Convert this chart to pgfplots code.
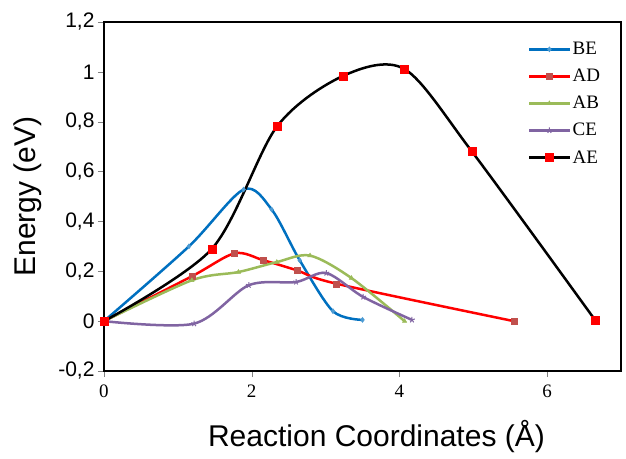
\documentclass[border=0pt]{standalone}
\usepackage{fontspec}
\setmainfont{Liberation Serif}
\newfontfamily\arial{Liberation Sans}
\usepackage{pgfplots}
\pgfplotsset{compat=1.18}
\definecolor{cBE}{HTML}{0070C0}
\definecolor{cAD}{HTML}{FF0000}
\definecolor{mAD}{HTML}{C0504D}
\definecolor{cAB}{HTML}{9BBB59}
\definecolor{cCE}{HTML}{8064A2}
\begin{document}
\begin{tikzpicture}
\begin{axis}[
  scale only axis, clip=false,
  width=517pt, height=349pt,
  xmin=0, xmax=7, ymin=-0.2, ymax=1.2,
  xtick={0,2,4,6}, ytick={-0.2,0,0.2,0.4,0.6,0.8,1,1.2},
  axis line style={line width=2.5pt, black},
  tick align=outside, xtick pos=bottom, ytick pos=left,
  major tick length=6pt,
  /pgf/number format/assume math mode=true,
  /pgf/number format/use comma,
  /pgf/number format/fixed,
  xticklabel style={font=\fontsize{19}{19}\selectfont, yshift=-4pt},
  yticklabel style={font=\arial\fontsize{21}{21}\selectfont},
  xlabel={Reaction Coordinates (Å)},
  ylabel={Energy (eV)},
  xlabel style={font=\arial\fontsize{30}{30}\selectfont, xshift=14pt, yshift=-16pt},
  ylabel style={font=\arial\fontsize{30}{30}\selectfont, yshift=10pt},
  legend style={draw=none, fill=none, at={(0.82,0.948)}, anchor=north west,
    font=\fontsize{19}{19}\selectfont, row sep=9pt, inner sep=0pt,
    nodes={inner xsep=2pt}},
  legend cell align=left,
  legend image code/.code={\draw[#1, mark repeat=2, mark phase=2] plot coordinates {(0pt,0pt) (20pt,0pt) (40pt,0pt)};},
]
\addplot[cBE, line width=2.5pt, smooth, mark=diamond*, mark size=2.5pt, mark options={fill=cBE!70!white, draw=cBE!70!white, line width=0.5pt}]
  coordinates {(0,0) (1.15,0.30) (1.89,0.528) (2.27,0.448) (2.65,0.244) (3.10,0.04) (3.50,0.005)};
\addlegendentry{BE}
\addplot[cAD, line width=2.5pt, smooth, mark=square*, mark size=3pt, mark options={fill=mAD, draw=mAD, line width=0.5pt}]
  coordinates {(0,0) (1.19,0.18) (1.77,0.272) (2.16,0.244) (2.61,0.204) (3.15,0.15) (5.55,0.0)};
\addlegendentry{AD}
\addplot[cAB, line width=2.5pt, smooth, mark=triangle*, mark size=2.5pt, mark options={fill=cAB, draw=cAB, line width=0.5pt}]
  coordinates {(0,0) (1.19,0.164) (1.82,0.197) (2.34,0.237) (2.79,0.263) (3.35,0.173) (4.07,0.0)};
\addlegendentry{AB}
\addplot[cCE, line width=2.5pt, smooth, mark=star, mark size=3pt, mark options={draw=cCE, line width=1pt}]
  coordinates {(0,0) (1.22,-0.01) (1.96,0.144) (2.60,0.157) (3.01,0.193) (3.51,0.097) (4.17,0.005)};
\addlegendentry{CE}
\addplot[black, line width=2.5pt, smooth, mark=square*, mark size=4pt, mark options={fill=red, draw=red, line width=0.5pt}]
  coordinates {(0,0) (1.46,0.29) (2.34,0.78) (3.24,0.984) (4.07,1.011) (4.98,0.681) (6.65,0.004)};
\addlegendentry{AE}
\draw[line width=2.5pt, black] (rel axis cs:0,0) rectangle (rel axis cs:1,1);
\end{axis}
\path (current axis.south west) ++(-104pt,-87pt);
\path (current axis.north east) ++(5pt,22pt);
\end{tikzpicture}
\end{document}
